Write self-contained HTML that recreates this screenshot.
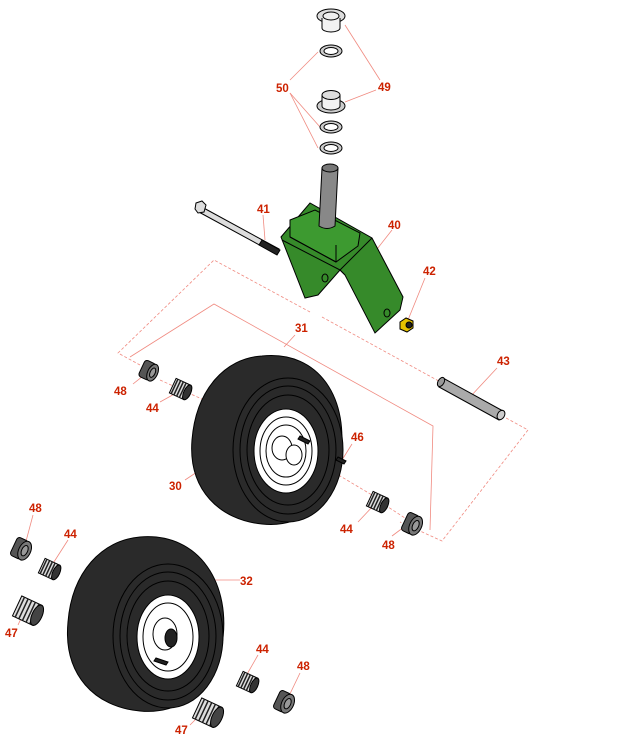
<!DOCTYPE html>
<html><head><style>html,body{margin:0;padding:0;background:#fff}svg{display:block}
text{font-family:"Liberation Sans",sans-serif;font-weight:bold;font-size:11.5px;fill:#cc2200}</style></head>
<body>
<svg width="643" height="756" viewBox="0 0 643 756" xmlns="http://www.w3.org/2000/svg">
<!-- dashed guide lines -->
<g stroke="#f08a80" stroke-width="0.8" fill="none" stroke-dasharray="3,2">
<polyline points="310,312 214,260 118,353 140,365"/>
<polyline points="322,317 528,430 442,541 400,522"/>
<line x1="160" y1="380" x2="215" y2="405"/>
<line x1="330" y1="470" x2="372" y2="495"/>
<line x1="385" y1="505" x2="405" y2="518"/>
<line x1="270" y1="245" x2="200" y2="207"/>
</g>
<g stroke="#f08a80" stroke-width="0.8" fill="none">
<polyline points="130,357 214,304 433,426 430,530"/>
<line x1="345" y1="25" x2="380" y2="80"/><line x1="345" y1="102" x2="376" y2="90"/>
<line x1="290" y1="80" x2="318" y2="52"/><line x1="290" y1="93" x2="320" y2="127"/><line x1="290" y1="93" x2="318" y2="148"/>
<line x1="263" y1="215" x2="265" y2="240"/><line x1="392" y1="230" x2="370" y2="258"/>
<line x1="425" y1="278" x2="408" y2="320"/><line x1="497" y1="368" x2="470" y2="397"/>
<line x1="295" y1="335" x2="284" y2="347"/><line x1="133" y1="384" x2="148" y2="372"/>
<line x1="160" y1="402" x2="178" y2="392"/><line x1="185" y1="480" x2="215" y2="460"/>
<line x1="352" y1="444" x2="342" y2="460"/><line x1="358" y1="522" x2="374" y2="505"/>
<line x1="392" y1="536" x2="408" y2="524"/><line x1="240" y1="580" x2="210" y2="580"/>
<line x1="33" y1="515" x2="25" y2="545"/><line x1="68" y1="540" x2="52" y2="565"/>
<line x1="18" y1="625" x2="25" y2="610"/><line x1="258" y1="655" x2="246" y2="676"/>
<line x1="300" y1="673" x2="288" y2="698"/><line x1="190" y1="725" x2="200" y2="715"/>
</g>
<!-- top bushings and washers -->
<g stroke="#000" stroke-width="1">
<ellipse cx="331" cy="16" rx="14" ry="7" fill="#ddd"/><path d="M322,18 v10 a9,4 0 0 0 18,0 v-10" fill="#f2f2f2"/><ellipse cx="331" cy="16" rx="8" ry="4" fill="#eee"/>
<ellipse cx="331" cy="51" rx="11" ry="6" fill="#ccc"/><ellipse cx="331" cy="51" rx="7" ry="3.5" fill="#fff"/>
<ellipse cx="331" cy="106" rx="14" ry="7" fill="#ccc"/><path d="M322,95 v11 a9,4 0 0 0 18,0 v-11" fill="#f2f2f2"/><ellipse cx="331" cy="95" rx="9" ry="4.5" fill="#ddd"/>
<ellipse cx="331" cy="127" rx="11" ry="6" fill="#ccc"/><ellipse cx="331" cy="127" rx="7" ry="3.5" fill="#fff"/>
<ellipse cx="331" cy="148" rx="11" ry="6" fill="#ccc"/><ellipse cx="331" cy="148" rx="7" ry="3.5" fill="#fff"/>
<!-- bolt 41 -->
<path d="M200,206 L279,249 L276,254 L197,211 Z" fill="#ddd"/>
<path d="M262,240 L280,250 L277,255 L259,245 Z" fill="#222"/>
<path d="M196,203 l6,-2 l4,4 l-2,7 l-6,1 l-3,-4 z" fill="#ddd"/>
<!-- fork -->
<path d="M281,237 L310,203 L372,238 L403,297 L400,310 L375,333 L345,275 L340,270 L318,295 L305,298 Z" fill="#368a2a"/>
<path d="M290,220 L315,210 L360,233 L358,246 L336,262 L290,237 Z" fill="#3d9a30"/>
<path d="M282,240 L340,270 L372,238" fill="none"/>
<path d="M290,237 L336,262 M336,262 L336,245 M340,270 L345,275" fill="none"/>
<ellipse cx="325" cy="278" rx="3" ry="4" fill="none"/><ellipse cx="387" cy="313" rx="3" ry="4" fill="none"/>
<!-- spindle -->
<path d="M322,168 L338,168 L335,226 Q327,231 319,226 Z" fill="#888"/>
<ellipse cx="330" cy="168" rx="8" ry="4" fill="#777"/>
<!-- nut 42 -->
<path d="M400,322 l6,-4 l7,3 l0,7 l-6,4 l-7,-3 z" fill="#e6c200"/><circle cx="409" cy="325" r="3" fill="#222"/>
<!-- axle 43 -->
<path d="M443,378 L503,411 L499,420 L439,387 Z" fill="#aaa"/>
<ellipse cx="441" cy="382" rx="3" ry="5" transform="rotate(30 441 382)" fill="#999"/>
<ellipse cx="501" cy="415" rx="3.5" ry="5" transform="rotate(30 501 415)" fill="#ccc"/>
<!-- wheel 30 -->
<path d="M262,356 C320,350 350,400 340,460 C332,505 300,528 262,524 C220,520 188,490 192,440 C196,390 225,358 262,356 Z" fill="#2a2a2a"/>
<ellipse cx="288" cy="450" rx="55" ry="72" fill="#2a2a2a"/>
<ellipse cx="288" cy="450" rx="48" ry="64" fill="none"/>
<ellipse cx="288" cy="450" rx="41" ry="55" fill="none"/>
<ellipse cx="286" cy="451" rx="32" ry="42" fill="#fff"/>
<ellipse cx="286" cy="451" rx="26" ry="34" fill="none"/>
<ellipse cx="286" cy="451" rx="20" ry="26" fill="none"/>
<ellipse cx="282" cy="448" rx="10" ry="12" fill="#fff"/>
<ellipse cx="294" cy="455" rx="8" ry="10" fill="#fff"/>
<path d="M300,436 l10,5 l-2,3 l-10,-5 z" fill="#222"/>
<path d="M338,457 l8,4 l-2,3 l-8,-4 z" fill="#222"/>
<!-- wheel 32 -->
<path d="M140,537 C200,532 232,585 222,645 C214,690 180,715 140,711 C95,707 63,675 68,622 C72,572 102,540 140,537 Z" fill="#2a2a2a"/>
<ellipse cx="168" cy="636" rx="55" ry="72" fill="#2a2a2a"/>
<ellipse cx="168" cy="636" rx="48" ry="64" fill="none"/>
<ellipse cx="168" cy="636" rx="41" ry="55" fill="none"/>
<ellipse cx="168" cy="637" rx="31" ry="42" fill="#fff"/>
<ellipse cx="168" cy="637" rx="25" ry="34" fill="none"/>
<ellipse cx="165" cy="634" rx="12" ry="16" fill="#fff"/>
<ellipse cx="171" cy="638" rx="6" ry="9" fill="#222"/>
<path d="M156,658 l12,4 l-2,3 l-12,-4 z" fill="#222"/>
</g>
<!-- bearings / spacers -->
<g stroke="#000" stroke-width="1">
<g transform="translate(149,371) rotate(25)"><rect x="-8" y="-9" width="12" height="18" rx="3" fill="#555"/><ellipse cx="4" cy="0" rx="5" ry="9" fill="#777"/><ellipse cx="4" cy="0" rx="2.5" ry="5" fill="#999"/></g>
<g transform="translate(180,389) rotate(25)"><rect x="-8" y="-8" width="16" height="16" fill="#ddd"/><path d="M-6,-8v16M-3,-8v16M0,-8v16M3,-8v16M6,-8v16" stroke="#222" stroke-width="1.5"/><ellipse cx="8" cy="0" rx="3.5" ry="8" fill="#333"/></g>
<g transform="translate(377,502) rotate(25)"><rect x="-8" y="-8" width="16" height="16" fill="#ddd"/><path d="M-6,-8v16M-3,-8v16M0,-8v16M3,-8v16M6,-8v16" stroke="#222" stroke-width="1.5"/><ellipse cx="8" cy="0" rx="3.5" ry="8" fill="#333"/></g>
<g transform="translate(412,524) rotate(25)"><rect x="-8" y="-10" width="12" height="20" rx="3" fill="#555"/><ellipse cx="4" cy="0" rx="6" ry="10" fill="#777"/><ellipse cx="4" cy="0" rx="3" ry="5.5" fill="#999"/></g>
<g transform="translate(21,549) rotate(25)"><rect x="-8" y="-10" width="12" height="20" rx="3" fill="#555"/><ellipse cx="4" cy="0" rx="6" ry="10" fill="#777"/><ellipse cx="4" cy="0" rx="3" ry="5.5" fill="#999"/></g>
<g transform="translate(49,569) rotate(25)"><rect x="-8" y="-8" width="16" height="16" fill="#ddd"/><path d="M-6,-8v16M-3,-8v16M0,-8v16M3,-8v16M6,-8v16" stroke="#222" stroke-width="1.5"/><ellipse cx="8" cy="0" rx="3.5" ry="8" fill="#333"/></g>
<g transform="translate(28,611) rotate(25)"><rect x="-12" y="-11" width="22" height="22" fill="#ddd"/><path d="M-9,-11v22M-5,-11v22M-1,-11v22M3,-11v22M7,-11v22" stroke="#222" stroke-width="1.5"/><ellipse cx="10" cy="0" rx="5" ry="11" fill="#444"/></g>
<g transform="translate(247,682) rotate(25)"><rect x="-8" y="-8" width="16" height="16" fill="#ddd"/><path d="M-6,-8v16M-3,-8v16M0,-8v16M3,-8v16M6,-8v16" stroke="#222" stroke-width="1.5"/><ellipse cx="8" cy="0" rx="3.5" ry="8" fill="#333"/></g>
<g transform="translate(284,702) rotate(25)"><rect x="-8" y="-10" width="12" height="20" rx="3" fill="#555"/><ellipse cx="4" cy="0" rx="6" ry="10" fill="#777"/><ellipse cx="4" cy="0" rx="3" ry="5.5" fill="#999"/></g>
<g transform="translate(208,713) rotate(25)"><rect x="-12" y="-11" width="22" height="22" fill="#ddd"/><path d="M-9,-11v22M-5,-11v22M-1,-11v22M3,-11v22M7,-11v22" stroke="#222" stroke-width="1.5"/><ellipse cx="10" cy="0" rx="5" ry="11" fill="#444"/></g>
</g>
<!-- labels -->
<text x="378" y="91">49</text><text x="276" y="92">50</text>
<text x="257" y="213">41</text><text x="388" y="229">40</text>
<text x="423" y="275">42</text><text x="295" y="332">31</text>
<text x="497" y="365">43</text><text x="114" y="395">48</text>
<text x="146" y="412">44</text><text x="351" y="441">46</text>
<text x="169" y="490">30</text><text x="340" y="533">44</text>
<text x="382" y="549">48</text><text x="29" y="512">48</text>
<text x="64" y="538">44</text><text x="240" y="585">32</text>
<text x="5" y="637">47</text><text x="256" y="653">44</text>
<text x="297" y="670">48</text><text x="175" y="734">47</text>
</svg>
</body></html>
